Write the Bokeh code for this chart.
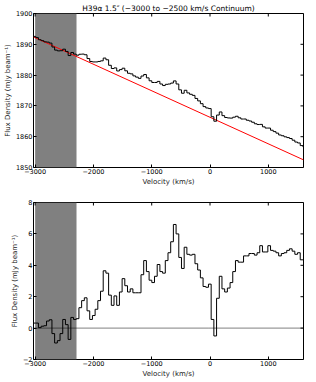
import numpy as np
from bokeh.plotting import figure
from bokeh.layouts import column
from bokeh.models import BoxAnnotation, Span, FixedTicker, Range1d
from bokeh.embed import file_html
from bokeh.resources import INLINE

# ---- data ----
VEL_FIRST = -3012.6      # km/s, centre of first channel
CHAN_WIDTH = 46.3        # km/s, channel width
RESIDUAL = [            # mJy/beam, continuum-subtracted spectrum
    0.32, 0.32, 0.03, 0.12, 0.15, 0.45, 0.53, -0.35, -0.95, -0.8,
    -0.35, 0.55, 0.22, -0.72, 0.68, 0.55, 0.6, 1.3, 1.75, 1.93,
    1.1, 0.55, 0.8, 1.2, 1.75, 2.35, 3.65, 3.5, 2.1, 1.45,
    2.05, 1.45, 2.3, 3.15, 2.7, 2.3, 2.5, 2.25, 2.25, 2.25,
    3.4, 4.3, 3.6, 3.05, 2.9, 3.3, 4.05, 3.6, 3.5, 4.3,
    4.8, 5.5, 6.6, 6.0, 4.5, 3.8, 5.15, 4.7, 4.65, 4.7,
    4.1, 3.7, 3.2, 2.65, 2.6, 2.8, 0.55, -0.5, 1.9, 3.3,
    2.5, 2.3, 2.55, 2.9, 3.6, 4.3, 4.2, 4.2, 4.6, 4.6,
    4.75, 4.75, 4.65, 4.8, 5.25, 4.85, 4.85, 5.25, 4.95, 4.9,
    4.8, 4.6, 4.75, 4.8, 4.95, 5.05, 4.9, 4.7, 4.8, 4.35,
    4.35,
]
CONT_AT_ZERO = 1866.3    # mJy/beam, continuum fit at 0 km/s
CONT_SLOPE = -0.008614   # mJy/beam per km/s
FIT_WINDOW = [-3000, -2290]
X_RANGE = [-3028, 1604]
TOP_Y_RANGE = [1850, 1900]
BOT_Y_RANGE = [-2, 8]
X_TICKS = [-3000, -2000, -1000, 0, 1000]
TOP_Y_TICKS = [1850, 1860, 1870, 1880, 1890, 1900]
BOT_Y_TICKS = [-2, 0, 2, 4, 6, 8]
TITLE = "H39\u03b1 1.5\u2033 (\u22123000 to \u22122500 km/s Continuum)"
X_LABEL = "Velocity (km/s)"
Y_LABEL = "Flux Density (mJy beam\u207b\u00b9)"

resid = np.array(RESIDUAL)
centres = VEL_FIRST + CHAN_WIDTH * np.arange(len(resid))
edges = np.append(centres - CHAN_WIDTH / 2, centres[-1] + CHAN_WIDTH / 2)


def continuum_at(v):
    return CONT_AT_ZERO + CONT_SLOPE * np.asarray(v, dtype=float)


total = continuum_at(centres) + resid

FONT = "DejaVu Sans"


def fmt(v):
    return str(v).replace("-", "\u2212")


def style(p, xticks, yticks, yrange):
    p.outline_line_color = "black"
    p.outline_line_width = 1
    p.background_fill_color = "white"
    p.border_fill_color = "white"
    p.xgrid.visible = False
    p.ygrid.visible = False
    for ax in p.xaxis:
        ax.ticker = FixedTicker(ticks=xticks)
        ax.major_label_overrides = {t: fmt(t) for t in xticks}
    for ax in p.yaxis:
        ax.ticker = FixedTicker(ticks=yticks)
        ax.major_label_overrides = {t: fmt(t) for t in yticks}
    for ax in list(p.xaxis) + list(p.yaxis):
        ax.axis_line_color = None
        ax.major_tick_in = 3
        ax.major_tick_out = 0
        ax.minor_tick_line_color = None
        ax.major_tick_line_color = "black"
        ax.major_label_text_font = FONT
        ax.major_label_text_font_size = "6.5px"
        ax.major_label_text_color = "black"
        ax.major_label_standoff = 1
        ax.axis_label_text_font = FONT
        ax.axis_label_text_font_size = "7px"
        ax.axis_label_text_font_style = "normal"
        ax.axis_label_text_color = "#222222"
        ax.axis_label_standoff = 1
    p.xaxis.axis_label = X_LABEL
    p.yaxis.axis_label = Y_LABEL
    # mirrored inward ticks on the top and right edges (clipped to the frame)
    p.scatter(xticks, [yrange[1]] * len(xticks), marker="dash", angle=np.pi / 2,
              size=6, line_color="black", line_width=1)
    p.scatter([X_RANGE[1]] * len(yticks), yticks, marker="dash",
              size=6, line_color="black", line_width=1)


# ---- top panel ----
p1 = figure(width=305, height=188, output_backend="svg", toolbar_location=None,
            x_range=Range1d(*X_RANGE), y_range=Range1d(*TOP_Y_RANGE),
            min_border_left=25, min_border_right=2, min_border_top=0,
            min_border_bottom=16)
p1.title.text = TITLE
p1.title.align = "center"
p1.title.text_font = FONT
p1.title.text_font_size = "7.5px"
p1.title.text_font_style = "normal"
p1.title.text_color = "black"
p1.title.standoff = 2
p1.add_layout(BoxAnnotation(left=FIT_WINDOW[0], right=FIT_WINDOW[1],
                            fill_color="#808080", fill_alpha=1.0,
                            line_color=None, level="underlay"))
p1.line(X_RANGE, continuum_at(X_RANGE), line_color="red", line_width=1)
p1.step(edges, np.append(total, total[-1]), mode="after",
        line_color="black", line_width=1)
style(p1, X_TICKS, TOP_Y_TICKS, TOP_Y_RANGE)

# ---- bottom panel ----
p2 = figure(width=305, height=192, output_backend="svg", toolbar_location=None,
            x_range=Range1d(*X_RANGE), y_range=Range1d(*BOT_Y_RANGE),
            min_border_left=25, min_border_right=2, min_border_top=14,
            min_border_bottom=14)
p2.add_layout(BoxAnnotation(left=FIT_WINDOW[0], right=FIT_WINDOW[1],
                            fill_color="#808080", fill_alpha=1.0,
                            line_color=None, level="underlay"))
p2.add_layout(Span(location=0, dimension="width", line_color="black",
                   line_width=1, line_dash="1 1"))
p2.step(edges, np.append(resid, resid[-1]), mode="after",
        line_color="black", line_width=1)
style(p2, X_TICKS, BOT_Y_TICKS, BOT_Y_RANGE)

layout = column(p1, p2, spacing=0)
open("out.html", "w").write(file_html(layout, INLINE))
